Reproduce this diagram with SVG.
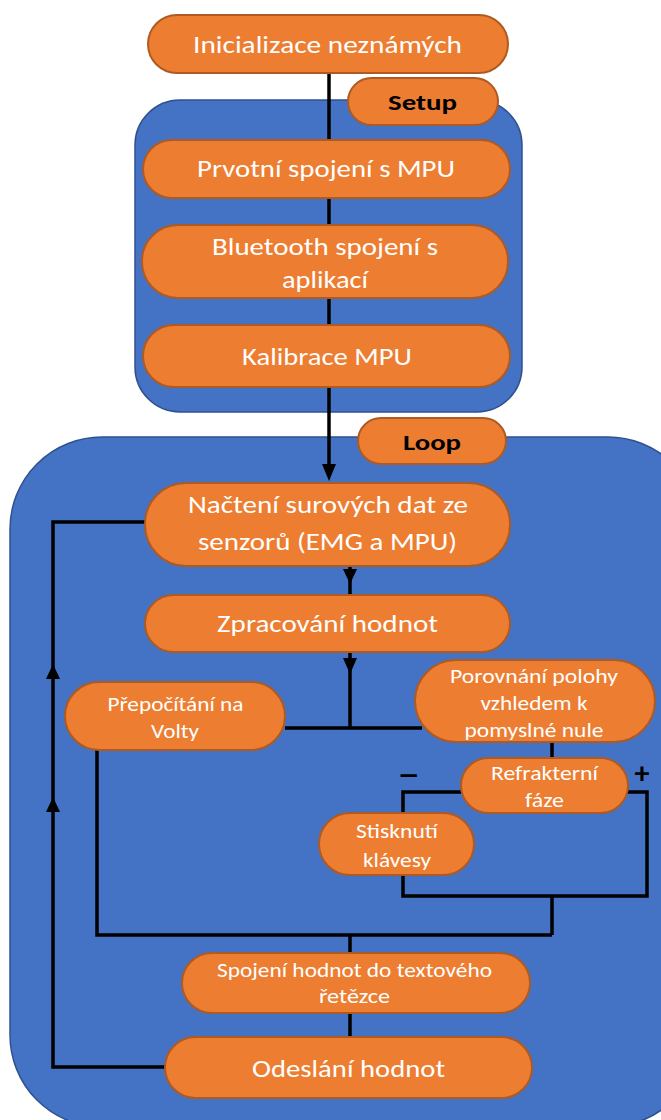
<svg xmlns="http://www.w3.org/2000/svg" width="661" height="1120" viewBox="0 0 661 1120">
<style>
.cont{fill:#4472C4;stroke:#2F528F;stroke-width:1.5}
.box{fill:#ED7D31;stroke:#AE5A21;stroke-width:2}
.t{font-family:Carlito,Lato,"Liberation Sans",sans-serif;fill:#FFFFFF;text-anchor:middle}
.big{font-size:24px}
.sm{font-size:20px}
.lbl{font-family:Carlito,Lato,"Liberation Sans",sans-serif;font-weight:bold;fill:#000000;text-anchor:middle;font-size:23px}
.ln{fill:none;stroke:#000000;stroke-width:3.5}
.ah{fill:#000000}
</style>
<rect width="661" height="1120" fill="#FFFFFF"/>
<g id="setup-container"><rect class="cont" x="135" y="100" width="387" height="312" rx="45"/></g>
<g id="loop-container"><rect class="cont" x="10" y="437" width="690" height="690" rx="92"/></g>
<g id="connectors">
<path class="ln" d="M329 73 V470"/>
<polygon class="ah" points="322,464 336,464 329,481"/>
<path class="ln" d="M350 566 V595"/>
<polygon class="ah" points="343,569 357,569 350,584"/>
<path class="ln" d="M350 652 V728"/>
<polygon class="ah" points="343,658 357,658 350,674"/>
<path class="ln" d="M285 728 H422"/>
<path class="ln" d="M552 742 V758"/>
<path class="ln" d="M403 792 H647 V896 H403 Z"/>
<path class="ln" d="M552 896 V935"/>
<path class="ln" d="M97 750 V935 H552"/>
<path class="ln" d="M350 935 V953"/>
<path class="ln" d="M350 1013 V1037"/>
<path class="ln" d="M165 1067 H53 V522 H145"/>
<polygon class="ah" points="46,679 60,679 53,664"/>
<polygon class="ah" points="46,812 60,812 53,797"/>
</g>
<g id="inicializace"><rect class="box" x="148" y="15" width="360" height="58" rx="29"/><text class="t big" x="327.5" y="53" textLength="269" lengthAdjust="spacingAndGlyphs">Inicializace neznámých</text></g>
<g id="setup-label"><rect class="box" x="348" y="78" width="150" height="47" rx="23.5"/><text class="lbl" x="422.5" y="110" textLength="69" lengthAdjust="spacingAndGlyphs">Setup</text></g>
<g id="prvotni"><rect class="box" x="143" y="140" width="367" height="58" rx="29"/><text class="t big" x="326" y="177" textLength="258" lengthAdjust="spacingAndGlyphs">Prvotní spojení s MPU</text></g>
<g id="bluetooth"><rect class="box" x="142" y="225" width="366" height="73" rx="36"/><text class="t big" x="325" y="255" textLength="226" lengthAdjust="spacingAndGlyphs">Bluetooth spojení s</text><text class="t big" x="325" y="288" textLength="86" lengthAdjust="spacingAndGlyphs">aplikací</text></g>
<g id="kalibrace"><rect class="box" x="143" y="325" width="367" height="62" rx="31"/><text class="t big" x="327" y="365" textLength="170" lengthAdjust="spacingAndGlyphs">Kalibrace MPU</text></g>
<g id="loop-label"><rect class="box" x="358" y="418" width="148" height="46" rx="23"/><text class="lbl" x="432" y="450" textLength="58" lengthAdjust="spacingAndGlyphs">Loop</text></g>
<g id="nacteni"><rect class="box" x="145" y="483" width="365" height="83" rx="41"/><text class="t big" x="328" y="513" textLength="280" lengthAdjust="spacingAndGlyphs">Načtení surových dat ze</text><text class="t big" x="327.5" y="550" textLength="259" lengthAdjust="spacingAndGlyphs">senzorů (EMG a MPU)</text></g>
<g id="zpracovani"><rect class="box" x="145" y="595" width="365" height="57" rx="28.5"/><text class="t big" x="327.5" y="632" textLength="221" lengthAdjust="spacingAndGlyphs">Zpracování hodnot</text></g>
<g id="prepocitani"><rect class="box" x="65" y="682" width="220" height="68" rx="34"/><text class="t sm" x="175.5" y="711" textLength="136" lengthAdjust="spacingAndGlyphs">Přepočítání na</text><text class="t sm" x="175" y="738" textLength="48" lengthAdjust="spacingAndGlyphs">Volty</text></g>
<g id="porovnani"><rect class="box" x="415" y="660" width="240" height="82" rx="41"/><text class="t sm" x="534" y="683" textLength="168" lengthAdjust="spacingAndGlyphs">Porovnání polohy</text><text class="t sm" x="534" y="710" textLength="107" lengthAdjust="spacingAndGlyphs">vzhledem k</text><text class="t sm" x="534" y="737" textLength="139" lengthAdjust="spacingAndGlyphs">pomyslné nule</text></g>
<g id="refrakterni"><rect class="box" x="461" y="758" width="167" height="55" rx="27.5"/><text class="t sm" x="544.5" y="780" textLength="107" lengthAdjust="spacingAndGlyphs">Refrakterní</text><text class="t sm" x="544.5" y="807" textLength="39" lengthAdjust="spacingAndGlyphs">fáze</text></g>
<g id="sign-minus"><text class="lbl" x="409" y="785" style="font-size:30px" textLength="21" lengthAdjust="spacingAndGlyphs">−</text></g>
<g id="sign-plus"><text class="lbl" x="642" y="783" style="font-size:30px">+</text></g>
<g id="stisknuti"><rect class="box" x="319" y="813" width="155" height="62" rx="31"/><text class="t sm" x="397" y="838" textLength="82" lengthAdjust="spacingAndGlyphs">Stisknutí</text><text class="t sm" x="397" y="867" textLength="68" lengthAdjust="spacingAndGlyphs">klávesy</text></g>
<g id="spojeni"><rect class="box" x="182" y="953" width="348" height="60" rx="30"/><text class="t sm" x="354.5" y="977" textLength="275" lengthAdjust="spacingAndGlyphs">Spojení hodnot do textového</text><text class="t sm" x="354.5" y="1003" textLength="71" lengthAdjust="spacingAndGlyphs">řetězce</text></g>
<g id="odeslani"><rect class="box" x="165" y="1037" width="367" height="61" rx="30.5"/><text class="t big" x="348.5" y="1077" textLength="193" lengthAdjust="spacingAndGlyphs">Odeslání hodnot</text></g>
</svg>
